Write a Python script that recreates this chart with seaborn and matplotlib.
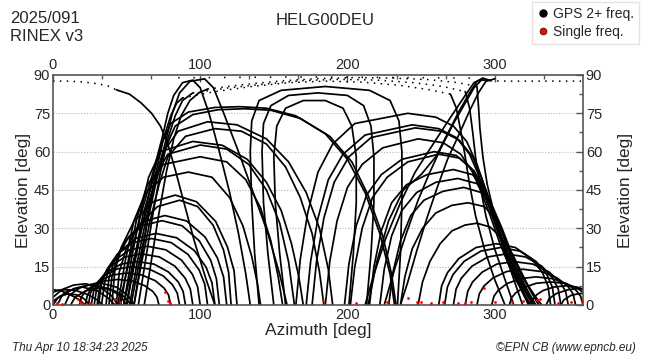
import pandas as pd
import matplotlib
matplotlib.use('Agg')
import matplotlib.pyplot as plt
from matplotlib.ticker import MultipleLocator
from matplotlib.lines import Line2D
import seaborn as sns

# satellite tracks: azimuth [deg] / elevation [deg]

# low passes in the north-east
ne_low_az = [[0, 6, 14, 22, 32, 40, 44], [0, 4, 10, 16, 24, 30, 34], [0, 3, 10, 20, 30, 38, 42],
             [0, 5, 10, 15, 19, 22], [3, 6, 14, 26, 38, 46, 50], [8, 11, 19, 31, 43, 51, 55],
             [0, 5, 10, 16, 21, 25], [12, 15, 22, 32, 42, 49, 53]]
ne_low_el = [[3, 6, 7.8, 8.3, 7, 3.5, 0], [5, 5.8, 6, 5.6, 4, 2, 0], [0, 2.5, 5.5, 7, 5.6, 2.5, 0],
             [6, 5.6, 4.5, 3, 1.5, 0], [0, 3.5, 6.4, 8, 6.4, 3.5, 0], [0, 3.8, 7, 8.8, 7, 3.8, 0],
             [1.5, 3.5, 4.3, 4, 2.5, 0], [0, 3, 5.5, 6.8, 5.5, 3, 0]]

# eastern arcs
east_az = [[40, 42, 46.5, 55, 68, 83, 97.5, 110.5, 118.5, 123, 125],
           [43, 45, 49.5, 58, 71, 86, 98.3, 108.8, 115.8, 119.3, 121],
           [38, 40, 43.7, 51.3, 62.7, 76, 90.7, 103.3, 111.7, 115.9, 118],
           [36, 38, 41.7, 49.3, 60.7, 74, 87.7, 99.4, 107.2, 111, 113],
           [33, 35, 38.6, 46, 57, 70, 84, 96, 104, 108, 110],
           [31, 32.8, 36.4, 43.6, 54.4, 67, 80.3, 91.7, 99.3, 103.1, 105],
           [30, 31.7, 35.1, 41.9, 52.1, 64, 76.6, 87.4, 94.6, 98.2, 100],
           [28, 29.6, 32.8, 39.2, 48.8, 60, 72.3, 82.8, 89.8, 93.3, 95],
           [26, 27.6, 30.7, 36.9, 46.2, 57, 68.6, 78.5, 85.1, 88.4, 90],
           [24, 25.5, 28.5, 34.5, 43.5, 54, 65.2, 74.8, 81.2, 84.4, 86],
           [22, 23.4, 26.2, 31.8, 40.2, 50, 60.5, 69.5, 75.5, 78.5, 80],
           [18, 19.3, 21.9, 27.1, 34.9, 44, 53.8, 62.2, 67.8, 70.6, 72]]
east_el = [[0, 13.4, 22.7, 32.7, 40.4, 43, 40.4, 32.7, 22.7, 13.4, 0],
           [0, 12.8, 21.6, 31.2, 38.5, 41, 38.5, 31.2, 21.6, 12.8, 0],
           [0, 10.9, 18.4, 26.6, 32.9, 35, 32.9, 26.6, 18.4, 10.9, 0],
           [0, 10.3, 17.4, 25.1, 31, 33, 31, 25.1, 17.4, 10.3, 0],
           [0, 8.7, 14.8, 21.3, 26.3, 28, 26.3, 21.3, 14.8, 8.7, 0],
           [0, 8.1, 13.7, 19.8, 24.4, 26, 24.4, 19.8, 13.7, 8.1, 0],
           [0, 7.2, 12.1, 17.5, 21.6, 23, 21.6, 17.5, 12.1, 7.2, 0],
           [0, 6.2, 10.5, 15.2, 18.8, 20, 18.8, 15.2, 10.5, 6.2, 0],
           [0, 5.3, 9, 12.9, 16, 17, 16, 12.9, 9, 5.3, 0],
           [0, 4.7, 7.9, 11.4, 14.1, 15, 14.1, 11.4, 7.9, 4.7, 0],
           [0, 3.9, 6.6, 9.5, 11.7, 12.5, 11.7, 9.5, 6.6, 3.9, 0],
           [0, 3.1, 5.3, 7.6, 9.4, 10, 9.4, 7.6, 5.3, 3.1, 0]]

# high passes east -> south
south_az = [[50, 55, 61, 67, 73, 80, 92, 110, 127, 145, 165, 185, 200, 212, 222, 229, 232],
            [53, 58, 64, 70, 76, 83, 95, 112, 130, 148, 168, 188, 203, 214, 224, 230, 233],
            [52, 57, 63, 69, 75, 85, 105, 125, 145, 160, 172, 181, 187, 190],
            [55, 60, 66, 72, 78, 90, 110, 128, 145, 158, 168, 176, 181, 184],
            [48, 53, 59, 65, 73, 95, 115, 132, 145, 155, 162, 167, 170],
            [50, 55, 61, 68, 78, 100, 118, 133, 145, 154, 160, 164],
            [46, 51, 57, 64, 75, 100, 118, 131, 141, 148, 153, 156],
            [44, 49, 55, 63, 75, 92, 108, 120, 129, 135, 139, 141]]
south_el = [[0, 15, 32, 48, 62, 71, 75.5, 77.3, 77.6, 77, 74, 67, 57, 44, 28, 12, 0],
            [0, 15, 32, 48, 61, 70, 74.5, 76.4, 76.8, 76.2, 73, 66, 56, 43, 27, 12, 0],
            [0, 16, 33, 48, 60, 68, 71.7, 70.5, 65, 56, 44, 30, 14, 0],
            [0, 16, 33, 47, 58, 66, 69, 68, 63, 54, 42, 28, 13, 0],
            [0, 17, 35, 50, 60, 64, 62.5, 57, 48, 37, 24, 11, 0],
            [0, 17, 35, 49, 59, 62.6, 61, 55, 45, 32, 17, 0],
            [0, 17, 34, 47, 55, 58, 56, 49, 38, 25, 11, 0],
            [0, 17, 33, 44, 50, 52, 50, 42, 31, 19, 8, 0]]

# near-zenith passes (solid parts)
zenith_az = [[45, 52, 60, 68, 74, 78, 82, 88, 95, 100, 106, 113, 120, 126, 131, 134],
             [48, 55, 63, 71, 77, 81, 86, 93, 103, 109, 116, 126, 136, 146, 154, 159],
             [43, 52, 60, 67, 73, 78, 83, 89, 96, 104, 110],
             [55, 60, 65, 70, 75, 80, 84, 88],
             [58, 63, 68, 73, 78, 83, 88, 95],
             [62, 67, 72, 77, 82, 87, 93, 99, 105],
             [270, 274, 277, 280, 283, 287, 293, 300, 307],
             [280, 283, 285, 287, 290, 294, 300, 307, 313],
             [288, 289, 290, 292, 295, 300, 306, 313, 319],
             [297, 292, 288, 283, 276, 268, 260, 250, 238, 228, 220, 214],
             [296, 291, 286, 280, 272, 264, 256, 248, 240, 232, 225],
             [300, 294, 289, 283, 276, 268, 261, 254, 247, 241, 236],
             [292, 286, 280, 273, 265, 256, 246, 236, 226, 218, 212],
             [140, 137, 135, 134, 135, 140, 155, 185, 215, 229, 235, 237, 237, 236, 234],
             [150, 146, 143, 142, 143, 148, 160, 180, 200, 211, 216, 218, 218, 216, 213],
             [158, 154, 151, 150, 152, 158, 170, 185, 197, 203, 206, 206, 204, 201]]
zenith_el = [[0, 18, 36, 52, 65, 75, 82, 87, 88, 85, 75, 60, 44, 28, 12, 0],
             [0, 18, 36, 52, 65, 75, 83, 87.5, 88.5, 85, 75, 60, 44, 28, 12, 0],
             [84.2, 82.5, 79, 75, 70, 63, 53, 40, 25, 10, 0],
             [0, 18, 36, 52, 65, 74, 79, 81],
             [0, 18, 36, 52, 65, 74, 80, 83],
             [0, 18, 36, 52, 65, 74, 80, 83, 84.5],
             [82.5, 77, 68, 58, 47, 35, 22, 10, 0],
             [83.5, 77, 68, 58, 47, 35, 22, 10, 0],
             [85.5, 78, 69, 58, 47, 35, 22, 10, 0],
             [87.8, 88.8, 87.5, 83, 76, 67, 58, 51, 45, 33, 17, 0],
             [88, 88, 85, 79, 71, 62, 52, 41, 28, 14, 0],
             [88.5, 87.5, 83, 76, 67, 57, 46, 34, 21, 9, 0],
             [88.6, 87, 82, 76, 69, 61, 52, 40, 26, 12, 0],
             [0, 20, 40, 60, 72, 80, 84, 85.5, 84, 80, 72, 60, 40, 20, 0],
             [0, 20, 40, 60, 71, 78, 82, 83, 82, 78, 70, 58, 40, 20, 0],
             [0, 20, 40, 58, 70, 77, 80, 80, 77, 70, 58, 40, 20, 0]]

# western arcs
west_az = [[165, 168, 173, 180, 190, 205, 241, 260, 272, 281, 288, 294, 300, 306, 313, 320, 324],
           [172, 175, 180, 187, 197, 212, 244, 262, 274, 283, 289, 295, 301, 307, 314, 321, 325],
           [176, 179, 184, 191, 201, 216, 246, 264, 276, 285, 291, 296, 302, 309, 316, 323, 327],
           [185, 188, 193, 200, 210, 224, 248, 265, 277, 285, 291, 297, 303, 310, 318, 323],
           [198, 201, 206, 213, 223, 237, 259, 274, 284, 291, 297, 303, 310, 318, 324],
           [202, 205, 210, 217, 227, 241, 262, 276, 286, 293, 299, 305, 312, 320, 326],
           [215, 218, 223, 230, 240, 254, 272, 285, 294, 300, 306, 313, 321, 327],
           [222, 225, 230, 237, 247, 260, 275, 288, 296, 302, 308, 315, 323, 328],
           [228, 231, 236, 243, 252, 265, 279, 291, 299, 305, 311, 318, 326, 330],
           [236, 239, 244, 251, 260, 271, 282, 293, 301, 307, 313, 320, 328, 332],
           [248, 251, 256, 263, 271, 280, 288, 297, 305, 312, 318, 324, 330],
           [262, 264, 267.9, 275.7, 287.4, 301, 314, 325, 332.5, 336.2, 338],
           [266, 267.9, 271.7, 279.3, 290.7, 304, 317, 328, 335.5, 339.2, 341],
           [272, 273.8, 277.4, 284.6, 295.4, 308, 321, 332, 339.5, 343.2, 345],
           [280, 281.7, 285, 291.6, 301.5, 313, 326, 337, 344.5, 348.2, 350],
           [288, 289.6, 292.7, 298.9, 308.2, 319, 331.6, 342.4, 349.6, 353.2, 355],
           [298, 299.5, 302.5, 308.5, 317.5, 328, 339.2, 348.8, 355.2, 358.4, 360],
           [310, 311.4, 314.2, 319.8, 328.2, 338, 347.5, 355.6, 360],
           [325, 326.2, 328.5, 333, 340, 348, 356, 360],
           [335, 337, 342, 350, 356, 360],
           [345, 347, 352, 358, 360]]
west_el = [[0, 18, 36, 52, 63, 71, 75, 73.5, 70, 64, 55, 45, 34, 23, 12, 4, 0],
           [0, 17, 34, 49, 59, 66.5, 70.5, 69, 65.5, 59, 51, 42, 32, 21, 10.5, 3, 0],
           [0, 17, 34, 48, 58, 65.5, 69.3, 68, 64.5, 58, 50, 41, 31, 20, 10, 3, 0],
           [0, 17, 33, 46, 55, 61.5, 65, 63.5, 59, 52, 44, 35, 25, 15, 6, 0],
           [0, 16, 31, 43, 51, 57, 60, 58.5, 53.5, 46, 37, 27, 17, 7, 0],
           [0, 15, 30, 42, 50, 56, 59, 57.5, 52.5, 45, 36, 26, 16, 6, 0],
           [0, 15, 29, 40, 47, 51, 53, 51, 45, 36, 27, 16, 6, 0],
           [0, 14, 27, 37, 44, 48, 49.5, 47.5, 41.5, 33, 24, 14, 5, 0],
           [0, 13, 25, 35, 41, 44.5, 46, 44, 38, 30, 21, 12, 4, 0],
           [0, 11, 22, 30, 36, 39, 40, 38.5, 33.5, 26, 18, 10, 3, 0],
           [0, 9, 17, 24, 29, 31.3, 32, 30.5, 26, 20, 13, 6, 0],
           [0, 7.5, 12.6, 18.2, 22.5, 24, 22.5, 18.2, 12.6, 7.5, 0],
           [0, 7, 11.9, 17.1, 21.1, 22.5, 21.1, 17.1, 11.9, 7, 0],
           [0, 6.2, 10.5, 15.2, 18.8, 20, 18.8, 15.2, 10.5, 6.2, 0],
           [0, 5.3, 9, 12.9, 16, 17, 16, 12.9, 9, 5.3, 0],
           [0, 4.4, 7.4, 10.6, 13.1, 14, 13.1, 10.6, 7.4, 4.4, 0],
           [0, 3.4, 5.8, 8.4, 10.3, 11, 10.3, 8.4, 5.8, 3.4, 0],
           [0, 2.8, 4.7, 6.8, 8.5, 9, 8.5, 6.8, 5],
           [0, 2.3, 4, 5.7, 7, 7.5, 7, 6.2],
           [0, 2.5, 4.5, 6, 6.4, 6.3],
           [0, 2, 3.8, 4.5, 4.5]]

# sparsely sampled parts of the zenith passes (drawn dotted)
dotted_az = [[0, 10, 20, 30, 37, 43],
             [297, 310, 325, 340, 352, 360],
             [88, 110, 135, 160, 185, 210, 235, 255, 270],
             [95, 120, 145, 170, 195, 220, 245, 265, 280],
             [105, 130, 155, 180, 205, 230, 255, 275, 288]]
dotted_el = [[87.6, 87.6, 87.3, 86.6, 85.8, 84.2],
             [87.7, 87.6, 87.6, 87.6, 87.6, 87.6],
             [81, 83.5, 85.5, 87, 87.6, 87.2, 86, 84.3, 82.5],
             [83, 85, 86.5, 87.8, 88.3, 88, 87, 85.5, 83.5],
             [84.5, 86.3, 87.7, 88.6, 89, 88.8, 88.2, 87, 85.5]]
sparse_az = [[85, 110, 135, 160, 185, 210, 235, 260, 285]]
sparse_el = [[88.9, 89, 89.1, 89.2, 89.2, 89.1, 89, 88.9, 88.8]]

# single frequency observations
red_az = [2.5, 6, 17, 18.5, 20, 25, 42, 45.5, 76, 78, 79.5, 183.5, 206, 226.6, 241, 247, 250,
          257, 265, 275, 280, 284, 293, 300, 311.5, 319.5, 328.5, 331, 343, 352, 359]
red_el = [0.8, 0.5, 2.5, 1.2, 0.6, 0.8, 2.2, 1.0, 5.0, 1.5, 0.8, 2.0, 0.6, 1.3, 2.8, 1.0, 1.2,
          0.8, 1.2, 0.8, 0.8, 1.0, 6.5, 1.2, 1.0, 1.5, 2.0, 2.5, 0.8, 1.0, 1.5]


def tracks_frame(az_lists, el_lists, tag):
    rows = []
    for i, (az, el) in enumerate(zip(az_lists, el_lists)):
        for a, e in zip(az, el):
            rows.append((f'{tag}{i}', a, e))
    return pd.DataFrame(rows, columns=['track', 'az', 'el'])


solid = pd.concat([
    tracks_frame(ne_low_az, ne_low_el, 'ne'),
    tracks_frame(east_az, east_el, 'e'),
    tracks_frame(south_az, south_el, 's'),
    tracks_frame(zenith_az, zenith_el, 'z'),
    tracks_frame(west_az, west_el, 'w'),
], ignore_index=True)
dotted = tracks_frame(dotted_az, dotted_el, 'd')
sparse = tracks_frame(sparse_az, sparse_el, 'p')
red = pd.DataFrame({'az': red_az, 'el': red_el})

sns.set_theme(style='white')
plt.rcParams['font.family'] = ['Liberation Sans', 'DejaVu Sans']

fig = plt.figure(figsize=(6.5, 3.6), dpi=100)
ax = fig.add_axes([0.0815, 0.1528, 0.8154, 0.6389])

for y in [15, 30, 45, 60, 75]:
    ax.axhline(y, color='#bbbbbb', lw=0.8, ls=(0, (1, 1.5)), zorder=0)

sns.lineplot(data=solid, x='az', y='el', units='track', estimator=None, sort=False,
             color='black', lw=1.25, solid_joinstyle='round', ax=ax, legend=False)
sns.lineplot(data=dotted, x='az', y='el', units='track', estimator=None, sort=False,
             color='black', lw=1.1, linestyle=(0, (1, 3.5)), ax=ax, legend=False)
sns.lineplot(data=sparse, x='az', y='el', units='track', estimator=None, sort=False,
             color='black', lw=1.1, linestyle=(0, (1, 9)), ax=ax, legend=False)
sns.scatterplot(data=red, x='az', y='el', color='red', s=4, linewidth=0, ax=ax, zorder=3)

ax.set_xlim(0, 360)
ax.set_ylim(0, 90)
ax.set_xticks([0, 100, 200, 300])
ax.xaxis.set_minor_locator(MultipleLocator(100 / 3))
ax.set_yticks(range(0, 91, 15))
ax.yaxis.set_minor_locator(MultipleLocator(7.5))
ax.tick_params(which='both', direction='in', top=True, right=True, labeltop=True,
               labelright=True, labelsize=10.5, color='#555555', pad=2)
ax.tick_params(which='major', length=5, width=1)
ax.tick_params(which='minor', length=3, width=1)
for sp in ax.spines.values():
    sp.set_color('#555555')
    sp.set_linewidth(1.2)

ax.set_xlabel('Azimuth [deg]', fontsize=12.5, labelpad=1)
ax.set_ylabel('Elevation [deg]', fontsize=12.5, labelpad=2)
fig.text(0.962, 0.472, 'Elevation [deg]', rotation=90, ha='center', va='center', fontsize=12.5)

fig.text(0.015, 0.948, '2025/091', fontsize=12, va='center')
fig.text(0.015, 0.898, 'RINEX v3', fontsize=12, va='center')
fig.text(0.5, 0.944, 'HELG00DEU', fontsize=12, ha='center', va='center')
fig.text(0.018, 0.033, 'Thu Apr 10 18:34:23 2025', fontsize=8.5, style='italic', va='center')
fig.text(0.978, 0.033, '\u00a9EPN CB (www.epncb.eu)', fontsize=8.5, style='italic',
         ha='right', va='center')

handles = [Line2D([], [], marker='o', ls='', color='black', markersize=5),
           Line2D([], [], marker='o', ls='', color='red', markeredgecolor='black',
                  markeredgewidth=0.4, markersize=5)]
fig.legend(handles, ['GPS 2+ freq.', 'Single freq.'], loc='upper right',
           bbox_to_anchor=(0.983, 0.995), fontsize=10, frameon=True, fancybox=False,
           edgecolor='#dddddd', handletextpad=0.2, handlelength=1, borderpad=0.35,
           labelspacing=0.3, borderaxespad=0)

fig.savefig('out.png', dpi=100)
